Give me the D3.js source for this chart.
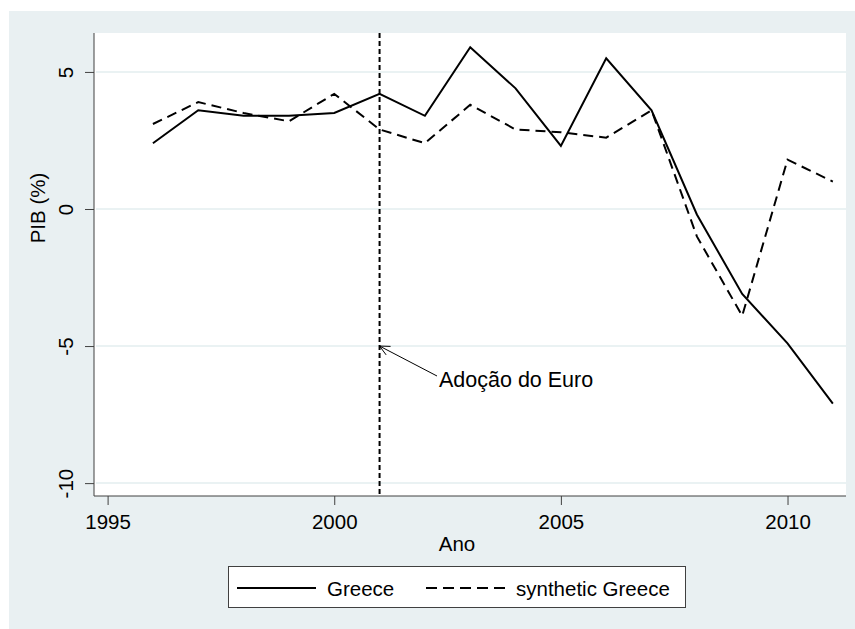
<!DOCTYPE html>
<html>
<head>
<meta charset="utf-8">
<script src="https://cdn.jsdelivr.net/npm/d3@7"></script>
<style>
    body { margin: 0; background: #ffffff; }
    svg { display: block; font-family: "Liberation Sans", Arial, sans-serif; }
</style>
</head>
<body>
<svg id="chart"></svg>
<script>
const years = [1996, 1997, 1998, 1999, 2000, 2001, 2002, 2003, 2004, 2005, 2006, 2007, 2008, 2009, 2010, 2011];
const greece = [2.4, 3.6, 3.4, 3.4, 3.5, 4.2, 3.4, 5.9, 4.4, 2.3, 5.5, 3.6, -0.2, -3.1, -4.9, -7.1];
const syntheticGreece = [3.1, 3.9, 3.5, 3.2, 4.2, 2.9, 2.4, 3.8, 2.9, 2.8, 2.6, 3.6, -1.0, -3.9, 1.8, 1.0];
const xTicks = [1995, 2000, 2005, 2010];
const yTicks = [5, 0, -5, -10];
const euroYear = 2001;
const annotation = { x: 2001, y: -5, label: "Adoção do Euro" };
const seriesNames = ["Greece", "synthetic Greece"];

const width = 855, height = 629;
const margin = { top: 33, right: 9, bottom: 133, left: 94 };
const bgColor = "#e9f0f2";
const gridColor = "#eaf2f3";
const fontSize = 20.5;

const svg = d3.select("#chart")
    .attr("width", width)
    .attr("height", height);

// outer graph region
svg.append("rect")
    .attr("x", 9).attr("y", 11)
    .attr("width", width - 9).attr("height", height - 11)
    .attr("fill", bgColor);

// plot region
svg.append("rect")
    .attr("x", margin.left).attr("y", margin.top)
    .attr("width", width - margin.right - margin.left)
    .attr("height", height - margin.bottom - margin.top)
    .attr("fill", "#ffffff");

const x = d3.scaleLinear()
    .domain([1994.70, 2011.29])
    .range([margin.left, width - margin.right]);

const y = d3.scaleLinear()
    .domain([-10.47, 6.42])
    .range([height - margin.bottom, margin.top]);

// gridlines
svg.append("g")
    .selectAll("line")
    .data(yTicks)
    .join("line")
    .attr("x1", margin.left + 2)
    .attr("x2", width - margin.right)
    .attr("y1", d => y(d))
    .attr("y2", d => y(d))
    .attr("stroke", gridColor)
    .attr("stroke-width", 2);

// y axis
let yAxis = g => g
    .attr("transform", `translate(${margin.left},0)`)
    .call(d3.axisLeft(y).tickValues(yTicks).tickSize(9).tickFormat(d => String(d)))
    .call(g => g.select(".domain").attr("d", `M0,${margin.top}V${height - margin.bottom}`).attr("stroke", "#404040"))
    .call(g => g.selectAll(".tick line").attr("stroke", "#404040"))
    .call(g => g.selectAll(".tick text")
        .attr("x", null).attr("dy", null)
        .attr("transform", "translate(-21,0) rotate(-90)")
        .attr("text-anchor", "middle")
        .attr("font-size", fontSize)
        .attr("fill", "#000")
        .attr("font-family", null));

// x axis
let xAxis = g => g
    .attr("transform", `translate(0,${height - margin.bottom})`)
    .call(d3.axisBottom(x).tickValues(xTicks).tickSize(9).tickFormat(d => String(d)))
    .call(g => g.select(".domain").attr("d", `M${margin.left},0H${width - margin.right}`).attr("stroke", "#404040"))
    .call(g => g.selectAll(".tick line").attr("stroke", "#404040"))
    .call(g => g.selectAll(".tick text")
        .attr("y", 33).attr("dy", null)
        .attr("font-size", fontSize)
        .attr("fill", "#000")
        .attr("font-family", null));

svg.append("g").call(yAxis);
svg.append("g").call(xAxis);

// axis titles
svg.append("text")
    .attr("transform", "translate(45,208) rotate(-90)")
    .attr("text-anchor", "middle")
    .attr("font-size", fontSize)
    .text("PIB (%)");

svg.append("text")
    .attr("x", 457).attr("y", 551)
    .attr("text-anchor", "middle")
    .attr("font-size", fontSize)
    .text("Ano");

// vertical line at euro adoption
svg.append("line")
    .attr("x1", x(euroYear)).attr("x2", x(euroYear))
    .attr("y1", margin.top).attr("y2", height - margin.bottom)
    .attr("stroke", "#000")
    .attr("stroke-width", 2)
    .attr("stroke-dasharray", "5,3");

// series lines
let line = d3.line()
    .x((d, i) => x(years[i]))
    .y(d => y(d));

svg.append("path")
    .datum(greece)
    .attr("d", line)
    .attr("fill", "none")
    .attr("stroke", "#000")
    .attr("stroke-width", 2);

svg.append("path")
    .datum(syntheticGreece)
    .attr("d", line)
    .attr("fill", "none")
    .attr("stroke", "#000")
    .attr("stroke-width", 2)
    .attr("stroke-dasharray", "10,6");

// annotation arrow
let ax = x(annotation.x), ay = y(annotation.y);
let tx = 437, ty = 376;
svg.append("line")
    .attr("x1", tx).attr("y1", ty)
    .attr("x2", ax).attr("y2", ay)
    .attr("stroke", "#000")
    .attr("stroke-width", 1);
let ang = Math.atan2(ty - ay, tx - ax);
let headLen = 11, spread = 0.45;
svg.append("path")
    .attr("d", `M${ax + headLen * Math.cos(ang - spread)},${ay + headLen * Math.sin(ang - spread)}L${ax},${ay}L${ax + headLen * Math.cos(ang + spread)},${ay + headLen * Math.sin(ang + spread)}`)
    .attr("fill", "none")
    .attr("stroke", "#000")
    .attr("stroke-width", 1);

svg.append("text")
    .attr("x", 439).attr("y", 387)
    .attr("font-size", 21.5)
    .text(annotation.label);

// legend
let legend = svg.append("g");
legend.append("rect")
    .attr("x", 228.5).attr("y", 566.5)
    .attr("width", 457).attr("height", 41)
    .attr("fill", "#fff")
    .attr("stroke", "#404040")
    .attr("stroke-width", 1);

let legendItems = [
    { name: seriesNames[0], x0: 237, dash: null },
    { name: seriesNames[1], x0: 426, dash: "11,6" }
];
legend.selectAll("line.key")
    .data(legendItems)
    .join("line")
    .attr("class", "key")
    .attr("x1", d => d.x0).attr("x2", d => d.x0 + 79)
    .attr("y1", 588).attr("y2", 588)
    .attr("stroke", "#000")
    .attr("stroke-width", 2)
    .attr("stroke-dasharray", d => d.dash);
legend.selectAll("text")
    .data(legendItems)
    .join("text")
    .attr("x", d => d.x0 + 90)
    .attr("y", 596)
    .attr("font-size", fontSize)
    .text(d => d.name);
</script>
</body>
</html>
